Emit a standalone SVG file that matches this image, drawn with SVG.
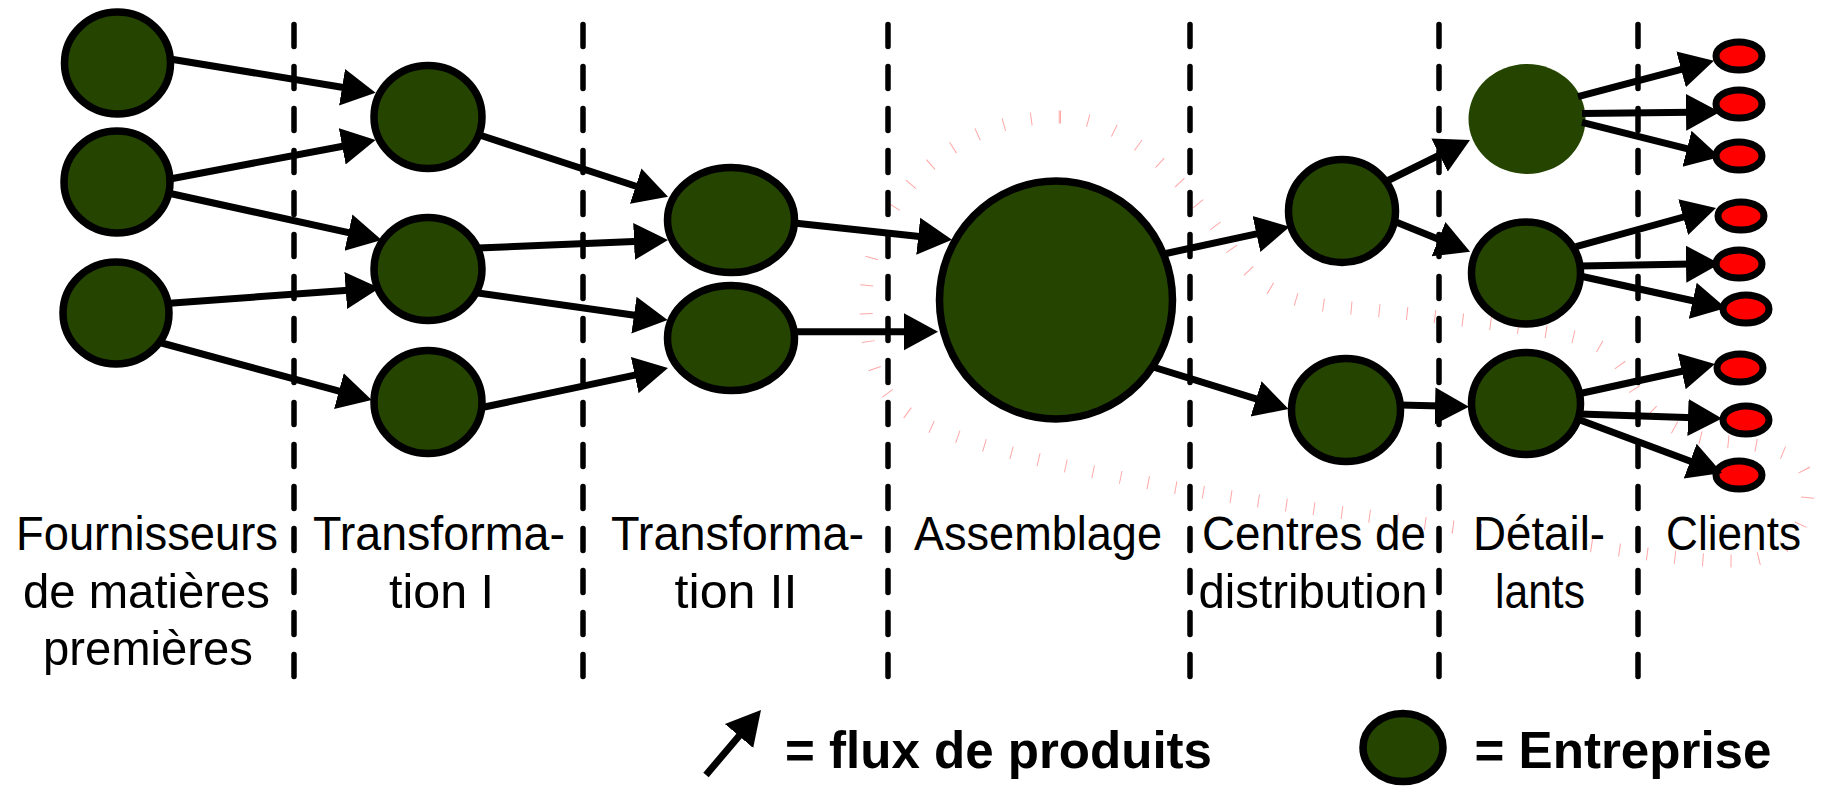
<svg xmlns="http://www.w3.org/2000/svg" width="1825" height="790" viewBox="0 0 1825 790">
  <style>
    .firm { fill: #244400; stroke: #000; stroke-width: 7.5; }
    .firm-plain { fill: #244400; }
    .client { fill: #ff0000; stroke: #000; stroke-width: 7; }
    .stage { fill: none; stroke: #000; stroke-width: 5.5; stroke-dasharray: 22 20; stroke-linecap: round; }
    .flow { fill: none; stroke: #000; stroke-width: 7; }
    .label { font-family: "Liberation Sans", Arial, sans-serif; font-size: 49px; fill: #000; text-anchor: middle; }
    .legend { font-family: "Liberation Sans", Arial, sans-serif; font-size: 52px; font-weight: bold; fill: #000; }
    .scope { fill: none; stroke: #ff0000; stroke-opacity: 0.35; stroke-width: 13; stroke-dasharray: 1 27; }
  </style>
  <defs>
    <marker id="head" markerUnits="userSpaceOnUse" markerWidth="40" markerHeight="40" viewBox="0 -20 40 40" refX="6" refY="0" orient="auto">
      <path d="M0,-18.5 L34,0 L0,18.5 Z" fill="#000"/>
    </marker>
  </defs>

  <rect width="1825" height="790" fill="#fff"/>

  <!-- hatched outline of the focal firm's scope -->
  <path class="scope" d="M1060,117 C1135,117 1195,195 1238,258 C1262,292 1295,303 1340,307 C1420,314 1500,324 1560,334 C1600,341 1614,352 1628,378 C1644,408 1672,437 1720,441 C1785,446 1808,458 1808,488 C1808,530 1785,560 1740,561 C1690,562 1620,550 1560,541 C1420,522 1260,504 1150,483 C1060,466 1000,452 950,434 C880,410 866,370 866,300 C866,215 940,117 1060,117 Z"/>

  <!-- stage separators -->
  <g id="separators">
    <line class="stage" x1="294" y1="24.5" x2="294" y2="678"/>
    <line class="stage" x1="583" y1="24.5" x2="583" y2="678"/>
    <line class="stage" x1="888" y1="24.5" x2="888" y2="678"/>
    <line class="stage" x1="1190" y1="24.5" x2="1190" y2="678"/>
    <line class="stage" x1="1439" y1="24.5" x2="1439" y2="678"/>
    <line class="stage" x1="1638" y1="24.5" x2="1638" y2="678"/>
  </g>

  <!-- raw material suppliers -->
  <g id="supplier-1"><ellipse class="firm" cx="117.5" cy="63" rx="53" ry="51"/></g>
  <g id="supplier-2"><ellipse class="firm" cx="117" cy="182" rx="53" ry="51"/></g>
  <g id="supplier-3"><ellipse class="firm" cx="116" cy="313" rx="53" ry="51"/></g>

  <!-- transformation I -->
  <g id="transf1-1"><ellipse class="firm" cx="428" cy="117" rx="54" ry="51.5"/></g>
  <g id="transf1-2"><ellipse class="firm" cx="428" cy="269" rx="54" ry="51.5"/></g>
  <g id="transf1-3"><ellipse class="firm" cx="428" cy="402" rx="54" ry="51.5"/></g>

  <!-- transformation II -->
  <g id="transf2-1"><ellipse class="firm" cx="731" cy="220" rx="63.5" ry="52.5"/></g>
  <g id="transf2-2"><ellipse class="firm" cx="731" cy="338" rx="63.5" ry="52.5"/></g>

  <!-- assembly -->
  <g id="assembly"><ellipse class="firm" cx="1056" cy="300" rx="116.5" ry="119"/></g>

  <!-- distribution centres -->
  <g id="dc-1"><ellipse class="firm" cx="1342" cy="211" rx="53.5" ry="51.5"/></g>
  <g id="dc-2"><ellipse class="firm" cx="1346" cy="410" rx="54.5" ry="51.5"/></g>

  <!-- retailers -->
  <g id="retail-1"><ellipse class="firm-plain" cx="1527" cy="119" rx="58.5" ry="55"/></g>
  <g id="retail-2"><ellipse class="firm" cx="1526" cy="273" rx="54.5" ry="51"/></g>
  <g id="retail-3"><ellipse class="firm" cx="1526" cy="403.5" rx="54.5" ry="51"/></g>

  <!-- clients -->
  <g id="client-1"><ellipse class="client" cx="1739" cy="56" rx="23" ry="14"/></g>
  <g id="client-2"><ellipse class="client" cx="1739" cy="104" rx="23" ry="14"/></g>
  <g id="client-3"><ellipse class="client" cx="1739" cy="156" rx="23" ry="14"/></g>
  <g id="client-4"><ellipse class="client" cx="1741" cy="216" rx="23" ry="14"/></g>
  <g id="client-5"><ellipse class="client" cx="1739" cy="264" rx="23" ry="14"/></g>
  <g id="client-6"><ellipse class="client" cx="1746" cy="309" rx="23" ry="14"/></g>
  <g id="client-7"><ellipse class="client" cx="1740" cy="368" rx="23" ry="14"/></g>
  <g id="client-8"><ellipse class="client" cx="1746" cy="420" rx="23" ry="14"/></g>
  <g id="client-9"><ellipse class="client" cx="1739" cy="475" rx="23" ry="14"/></g>

  <!-- product flows -->
  <g id="flows" marker-end="url(#head)">
    <path class="flow" d="M170,59 L348,88.2"/>
    <path class="flow" d="M170,179 L348.1,145.2"/>
    <path class="flow" d="M168,193 L354.3,233.9"/>
    <path class="flow" d="M166,303.5 L351.7,290"/>
    <path class="flow" d="M158,342 L344.7,392.7"/>

    <path class="flow" d="M478,134.5 L641.4,188"/>
    <path class="flow" d="M478,248 L640,241.2"/>
    <path class="flow" d="M478,293 L639.9,316"/>
    <path class="flow" d="M482,407.5 L640.6,373.8"/>

    <path class="flow" d="M794,223 L924.2,236.9"/>
    <path class="flow" d="M794,331.7 L910,331.7"/>

    <path class="flow" d="M1166,253.5 L1262.3,232.7"/>
    <path class="flow" d="M1153,367 L1261.8,400.7"/>

    <path class="flow" d="M1386,181.5 L1444.9,152.4"/>
    <path class="flow" d="M1396,222 L1444.1,241.4"/>
    <path class="flow" d="M1400,405 L1441,406.1"/>

    <path class="flow" d="M1578,96.7 L1686.9,67.9"/>
    <path class="flow" d="M1582,113.6 L1692,112.3"/>
    <path class="flow" d="M1582,122.4 L1692.8,150.2"/>

    <path class="flow" d="M1576,246.7 L1689,215.5"/>
    <path class="flow" d="M1580,266 L1692,264.1"/>
    <path class="flow" d="M1580,276 L1698.6,302"/>

    <path class="flow" d="M1578,394 L1687.6,370"/>
    <path class="flow" d="M1580,414 L1694,417.7"/>
    <path class="flow" d="M1578,419.3 L1695.8,463.2"/>
  </g>

  <!-- stage labels -->
  <g id="labels">
    <text class="label" x="147" y="550" textLength="262" lengthAdjust="spacingAndGlyphs">Fournisseurs</text>
    <text class="label" x="146.5" y="608" textLength="247" lengthAdjust="spacingAndGlyphs">de matières</text>
    <text class="label" x="148" y="665" textLength="210" lengthAdjust="spacingAndGlyphs">premières</text>

    <text class="label" x="439" y="550" textLength="252" lengthAdjust="spacingAndGlyphs">Transforma-</text>
    <text class="label" x="441.5" y="608" textLength="105" lengthAdjust="spacingAndGlyphs">tion I</text>

    <text class="label" x="737.5" y="550" textLength="253" lengthAdjust="spacingAndGlyphs">Transforma-</text>
    <text class="label" x="736" y="608" textLength="123" lengthAdjust="spacingAndGlyphs">tion II</text>

    <text class="label" x="1038" y="550" textLength="248" lengthAdjust="spacingAndGlyphs">Assemblage</text>

    <text class="label" x="1314" y="550" textLength="224" lengthAdjust="spacingAndGlyphs">Centres de</text>
    <text class="label" x="1313" y="608" textLength="229" lengthAdjust="spacingAndGlyphs">distribution</text>

    <text class="label" x="1539" y="550" textLength="132" lengthAdjust="spacingAndGlyphs">Détail-</text>
    <text class="label" x="1540" y="608" textLength="90" lengthAdjust="spacingAndGlyphs">lants</text>

    <text class="label" x="1733.5" y="550" textLength="135" lengthAdjust="spacingAndGlyphs">Clients</text>
  </g>

  <!-- legend -->
  <g id="legend-flow">
    <path class="flow" d="M706,775 L742.9,731.4" marker-end="url(#head)"/>
    <text class="legend" x="785" y="768" textLength="427" lengthAdjust="spacingAndGlyphs">= flux de produits</text>
  </g>
  <g id="legend-firm">
    <ellipse class="firm" cx="1403" cy="747.5" rx="40" ry="34"/>
    <text class="legend" x="1474.5" y="768" textLength="297" lengthAdjust="spacingAndGlyphs">= Entreprise</text>
  </g>
</svg>
